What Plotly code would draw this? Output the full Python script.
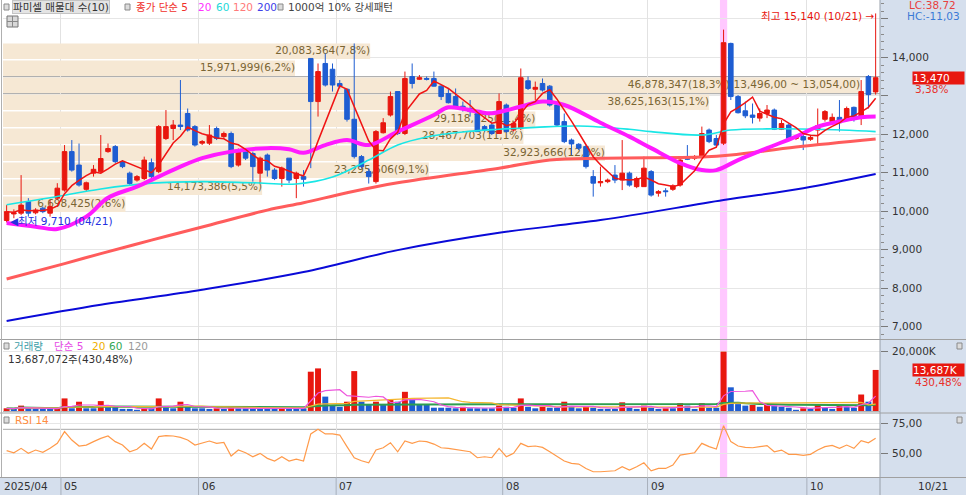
import plotly.graph_objects as go
import pandas as pd

FONT = "DejaVu Sans, Noto Sans CJK KR, sans-serif"
RED = "#e8170f"
BLUE = "#1e5dd2"

# ---------------- data ----------------
# trading-day index 0 = 2025-04-21 ... 120 = 2025-10-21
month_start_idx = [8, 27, 46, 69, 89, 111]
month_labels = ["05", "06", "07", "08", "09", "10"]
highlight_idx = 99  # 2025-09-15

opens = [9760, 9930, 9950, 10250, 9960, 10080, 9950, 10340, 10550, 11550,
         11200, 10570, 10990, 11030, 11550, 11680, 11290, 10990, 10810, 10850,
         11260, 11030, 11890, 12150, 12240, 12540, 12200, 11770, 11770, 12150,
         11940, 12020, 11200, 11550, 11500, 10990, 11460, 11070, 10850, 11380,
         10850, 10900, 13970, 12850, 13840, 13690, 13320, 13170, 12390, 11420,
         11030, 10770, 12040, 12500, 13110, 12020, 13500, 13430, 13450, 13450,
         13250, 13060, 12980, 12730, 12670, 12540, 12200, 12240, 12020, 12760,
         12110, 12150, 13390, 13170, 13320, 13250, 12760, 12330, 11850, 11740,
         11680, 10900, 10740, 10770, 10940, 10810, 10990, 10640, 10640, 11030,
         10470, 10530, 10570, 10680, 11390, 11380, 11420, 12110, 11890, 11770,
         14360, 12980, 12610, 12500, 12420, 12540, 12630, 12130, 12240, 11890,
         11940, 11870, 12110, 12390, 12330, 12440, 12410, 12700, 12410, 13500,
         13100]
highs = [10160, 10050, 10940, 10340, 10080, 10120, 10290, 10730, 11720, 11850,
         11760, 10770, 11200, 11980, 11760, 11720, 11330, 11030, 10940, 11420,
         11370, 12240, 12630, 12370, 13410, 12670, 12240, 11850, 12240, 12200,
         12070, 12070, 11630, 11590, 11550, 11420, 11500, 11120, 11160, 11380,
         11030, 11070, 13970, 13840, 14100, 13840, 13410, 13190, 14360, 11460,
         11110, 12110, 12420, 13110, 13110, 13630, 13840, 13540, 13500, 13630,
         13280, 13190, 13190, 12850, 12890, 12590, 12240, 12280, 13060, 12800,
         12330, 13710, 13500, 13370, 13450, 13280, 12800, 12540, 11890, 11770,
         11720, 11070, 11160, 10850, 11200, 11850, 11030, 10900, 11420, 11070,
         10550, 10600, 10700, 11420, 11720, 11460, 12200, 12150, 11980, 14720,
         14380, 13020, 12850, 12800, 12670, 12760, 12670, 12370, 12280, 11980,
         12020, 11980, 12670, 12630, 12540, 12890, 12720, 12720, 13410, 13540,
         15140]
lows = [9710, 9820, 9900, 9860, 9920, 9950, 9860, 10290, 10510, 11030,
        10640, 10510, 10900, 10990, 11520, 11250, 11120, 10680, 10770, 10810,
        10850, 10990, 11850, 11850, 12110, 12070, 11680, 11720, 11720, 11850,
        11890, 11120, 11160, 11330, 10770, 10730, 10900, 10810, 10640, 10730,
        10340, 10640, 11120, 12460, 13240, 13110, 13190, 12330, 11370, 11110,
        10720, 10720, 12020, 12460, 11980, 11980, 13190, 13410, 13400, 13240,
        12890, 12800, 12670, 12590, 12460, 12070, 12070, 11980, 12010, 12040,
        12070, 12110, 13150, 12890, 13110, 12720, 12200, 11770, 11460, 11590,
        11110, 10380, 10640, 10730, 10730, 10550, 10640, 10600, 10640, 10380,
        10380, 10380, 10530, 10640, 11330, 11330, 11380, 11770, 11680, 11720,
        12890, 12540, 12420, 12280, 12330, 12420, 12110, 12110, 11850, 11850,
        11590, 11830, 11720, 12330, 12280, 12070, 12370, 12330, 12240, 12670,
        13030]
closes = [9990, 9960, 10160, 9950, 10030, 9990, 10120, 10600, 11550, 11070,
          10680, 10740, 11090, 11370, 11630, 11290, 11160, 10720, 10900, 11330,
          10900, 12200, 12200, 12240, 12200, 12110, 11720, 11810, 11980, 11890,
          12020, 11160, 11590, 11380, 11160, 11380, 11070, 10850, 11120, 10810,
          10990, 10830, 12850, 13630, 13280, 13280, 13250, 12390, 11420, 11160,
          10900, 12070, 12300, 12980, 12020, 13450, 13320, 13470, 13430, 13250,
          12980, 12820, 12730, 12650, 12590, 12070, 12110, 12020, 12850, 12070,
          12280, 13470, 13190, 13220, 13150, 12760, 12240, 11810, 11750, 11640,
          11160, 10730, 10770, 10810, 10810, 10990, 10680, 10850, 11120, 10420,
          10510, 10510, 10660, 11330, 11350, 11420, 12020, 11810, 11720, 14380,
          12980, 12560, 12480, 12440, 12540, 12630, 12130, 12280, 11890, 11940,
          11850, 11920, 12220, 12590, 12440, 12300, 12670, 12390, 13110, 13030,
          13470]
volume_m = [0.9, 0.7, 1.8, 0.9, 0.7, 0.7, 0.7, 1.1, 4.2, 0.9,
            3.1, 0.9, 0.9, 3.3, 1.4, 1.4, 0.7, 0.7, 0.4, 0.9,
            0.9, 4.2, 1.2, 0.9, 3.1, 1.4, 0.9, 0.9, 0.7, 0.9,
            0.7, 1.4, 0.9, 0.9, 0.9, 0.9, 0.9, 0.7, 0.9, 0.9,
            0.9, 0.9, 13.1, 14.2, 4.8, 2.0, 1.4, 3.1, 13.3, 3.1,
            2.0, 3.1, 2.0, 4.0, 3.1, 6.4, 4.0, 2.0, 2.0, 1.1,
            1.1, 1.1, 0.9, 1.4, 0.9, 0.9, 0.9, 0.9, 1.8, 1.4,
            1.1, 4.2, 1.4, 0.9, 1.4, 1.1, 1.1, 3.1, 1.4, 0.9,
            1.4, 1.1, 0.7, 0.7, 0.7, 2.9, 1.1, 0.7, 1.8, 1.1,
            0.7, 0.9, 0.9, 2.6, 1.8, 0.7, 2.6, 1.1, 1.1, 19.8,
            7.9, 2.3, 1.8, 2.0, 1.4, 2.0, 1.8, 1.4, 1.1, 0.4,
            0.9, 0.7, 2.2, 1.1, 0.7, 1.8, 1.4, 1.1, 5.5, 3.1,
            13.687]
rsi14 = [52.5, 50.8, 54.4, 50.3, 53.0, 51.1, 54.4, 58.5, 68.1, 61.2,
         56.3, 57.1, 59.9, 62.6, 64.5, 59.9, 57.1, 51.6, 53.6, 58.5,
         53.8, 64.0, 64.8, 64.5, 63.4, 61.2, 57.1, 58.5, 60.4, 58.5,
         59.3, 48.1, 53.0, 50.8, 47.5, 50.3, 46.2, 44.0, 47.5, 44.0,
         45.6, 44.0, 66.2, 70.0, 66.2, 66.2, 65.3, 55.8, 46.7, 44.2,
         42.6, 53.0, 54.9, 59.0, 51.6, 60.4, 58.5, 60.4, 59.9, 57.9,
         54.9, 54.4, 53.6, 52.5, 51.6, 46.7, 47.5, 46.7, 54.4, 47.5,
         50.3, 58.5, 55.8, 56.3, 55.2, 51.6, 47.5, 44.0, 42.1, 41.5,
         37.9, 35.2, 35.2, 35.8, 36.0, 39.3, 36.6, 39.3, 42.6, 36.0,
         37.9, 37.9, 40.7, 48.9, 49.7, 50.8, 58.5, 55.8, 53.8, 73.0,
         59.9, 56.3, 55.2, 54.9, 55.8, 56.6, 51.6, 53.0, 49.5, 49.5,
         48.6, 49.5, 53.0, 55.8, 56.8, 54.4, 57.1, 54.4, 60.7, 59.0,
         62.6]

# moving averages (index, price)
ma20_idx = [0, 4, 7, 11, 14, 18, 21, 24, 27, 31, 36, 39, 41, 44, 47, 50, 54, 59, 61, 65,
            67, 71, 74, 77, 82, 86, 89, 93, 96, 98, 101, 105, 109, 112, 115, 118, 120]
ma20_val = [9695, 9600, 9540, 9860, 10350, 10640, 10900, 11160, 11380, 11550, 11640, 11610,
            11520, 11720, 11850, 11720, 12070, 12500, 12700, 12590, 12545, 12720, 12850, 12760,
            12300, 11940, 11640, 11250, 11070, 11070, 11330, 11640, 11940, 12200, 12330, 12440, 12460]
ma60_idx = [0, 6, 13, 20, 27, 34, 40, 45, 50, 54, 58, 63, 68, 73, 79, 86, 89, 96, 100, 105, 112, 120]
ma60_val = [10170, 10350, 10580, 10730, 10770, 10740, 10710, 10890, 11330, 11720, 11930, 12060,
            12130, 12180, 12215, 12130, 12070, 11980, 12110, 12140, 12130, 12070]
ma120_idx = [0, 8, 13, 20, 27, 36, 41, 47, 54, 68, 75, 82, 96, 100, 109, 120]
ma120_val = [8240, 8640, 8900, 9250, 9590, 10030, 10220, 10480, 10740, 11120, 11330, 11380,
             11410, 11460, 11670, 11880]
ma200_idx = [0, 13, 27, 41, 54, 68, 82, 99, 110, 120]
ma200_val = [7150, 7570, 7960, 8420, 8990, 9440, 9770, 10290, 10600, 10970]

# volume profile (매물대) bands, top to bottom
profile_centers = [14159, 13717, 13275, 12833, 12391, 11949, 11507, 11065, 10623, 10181]
profile_step = 442
profile_vol_m = [20.083364, 15.971999, 46.878347, 38.625163, 29.118725, 28.467703,
                 32.923666, 23.295606, 14.173386, 6.698425]
profile_labels = ["20,083,364(7,8%)", "15,971,999(6,2%)",
                  "46,878,347(18,3%)(13,496,00 ~ 13,054,00)", "38,625,163(15,1%)",
                  "29,118,725(11,4%)", "28,467,703(11,1%)", "32,923,666(12,8%)",
                  "23,295,606(9,1%)", "14,173,386(5,5%)", "6,698,425(2,6%)"]
current_band = (13054, 13496)

price_ticks = [7000, 8000, 9000, 10000, 11000, 12000, 13000, 14000, 15000]
price_ticktext = ["7,000", "8,000", "9,000", "10,000", "11,000", "12,000", "", "14,000", ""]

n = len(closes)
idx = list(range(n))
ma5 = pd.Series(closes).rolling(5, min_periods=1).mean()
vol_s = pd.Series(volume_m)
vma5 = vol_s.rolling(5, min_periods=1).mean()
vma20 = vol_s.rolling(20, min_periods=1).mean()
vma60 = vol_s.rolling(60, min_periods=1).mean()
vol_colors = [RED if (i == 0 or volume_m[i] > volume_m[i - 1]) else BLUE for i in idx]

# ---------------- geometry ----------------
W, H = 966, 495
ML, MR, MT, MB = 3, 86, 0, 18
PW = W - ML - MR
PH = H - MT - MB


def fx(px):
    return (px - ML) / PW


def fy(py):
    return (PH - (py - MT)) / PH


X_RANGE = [-0.5, 120.6]

fig = go.Figure()

# volume profile bands (base subplot, drawn beneath price traces)
fig.add_trace(go.Bar(x=profile_vol_m, y=profile_centers, orientation="h", base=0,
                     width=profile_step - 40, marker=dict(color="#f6e8d4", line=dict(width=0)),
                     xaxis="x", yaxis="y", hoverinfo="skip"))
fig.add_trace(go.Scatter(x=profile_vol_m, y=profile_centers, mode="text", text=profile_labels,
                         textposition="middle left",
                         textfont=dict(family=FONT, size=10.5, color="#7a6533"),
                         xaxis="x", yaxis="y", hoverinfo="skip"))

# moving averages
fig.add_trace(go.Scatter(x=ma200_idx, y=ma200_val, mode="lines", line=dict(color="#0a0ad8", width=2, shape="spline"),
                         xaxis="x2", yaxis="y", hoverinfo="skip"))
fig.add_trace(go.Scatter(x=ma120_idx, y=ma120_val, mode="lines", line=dict(color="#ff5c5c", width=3, shape="spline"),
                         xaxis="x2", yaxis="y", hoverinfo="skip"))
fig.add_trace(go.Scatter(x=ma60_idx, y=ma60_val, mode="lines", line=dict(color="#19e6e6", width=1.6, shape="spline"),
                         xaxis="x2", yaxis="y", hoverinfo="skip"))
fig.add_trace(go.Scatter(x=ma20_idx, y=ma20_val, mode="lines", line=dict(color="#ff1aff", width=4, shape="spline"),
                         xaxis="x2", yaxis="y", hoverinfo="skip"))

fig.add_trace(go.Candlestick(x=idx, open=opens, high=highs, low=lows, close=closes,
                             increasing=dict(line=dict(color=RED, width=1), fillcolor=RED),
                             decreasing=dict(line=dict(color=BLUE, width=1), fillcolor=BLUE),
                             whiskerwidth=0, xaxis="x2", yaxis="y", hoverinfo="skip"))
fig.add_trace(go.Scatter(x=idx, y=ma5, mode="lines", line=dict(color="#f01414", width=1.5),
                         xaxis="x2", yaxis="y", hoverinfo="skip"))

# volume
fig.add_trace(go.Bar(x=idx, y=volume_m, width=0.82, marker=dict(color=vol_colors, line=dict(width=0)),
                     xaxis="x3", yaxis="y2", hoverinfo="skip"))
fig.add_trace(go.Scatter(x=idx, y=vma60, mode="lines", line=dict(color="#2e9e4f", width=2),
                         xaxis="x3", yaxis="y2", hoverinfo="skip"))
fig.add_trace(go.Scatter(x=idx, y=vma20, mode="lines", line=dict(color="#f5b730", width=1.2),
                         xaxis="x3", yaxis="y2", hoverinfo="skip"))
fig.add_trace(go.Scatter(x=idx, y=vma5, mode="lines", line=dict(color="#ee55dd", width=1.2),
                         xaxis="x3", yaxis="y2", hoverinfo="skip"))

# RSI
fig.add_trace(go.Scatter(x=idx, y=rsi14, mode="lines", line=dict(color="#ff9a4a", width=1.2),
                         xaxis="x4", yaxis="y3", hoverinfo="skip"))

# ---------------- shapes ----------------
shapes = []


def line_px(x0, y0, x1, y1, color="#a0a0a0", width=1):
    shapes.append(dict(type="line", xref="paper", yref="paper", x0=fx(x0), x1=fx(x1),
                       y0=fy(y0), y1=fy(y1), line=dict(color=color, width=width), layer="above"))


def rect_px(x0, y0, x1, y1, fill, border=None, layer="above"):
    shapes.append(dict(type="rect", xref="paper", yref="paper", x0=fx(x0), x1=fx(x1),
                       y0=fy(y1), y1=fy(y0), fillcolor=fill,
                       line=dict(color=border or fill, width=1 if border else 0), layer=layer))


# pink highlight of the selected day
shapes.append(dict(type="rect", xref="x2", yref="paper", x0=highlight_idx - 0.5, x1=highlight_idx + 0.5,
                   y0=0, y1=1, fillcolor="#ffc8ff", line=dict(width=0), layer="below"))
# current-price band borders
for v in current_band:
    shapes.append(dict(type="line", xref="paper", yref="y", x0=0, x1=1, y0=v, y1=v,
                       line=dict(color="#9c9c9c", width=1), layer="below"))
# RSI 70 line
shapes.append(dict(type="line", xref="paper", yref="y3", x0=0, x1=1, y0=70, y1=70,
                   line=dict(color="#a8a8a8", width=1), layer="below"))
# left white strip
rect_px(0, 0, 3, 477, "#ffffff", layer="below")
# panel separators
line_px(0, 339.5, 966, 339.5)
line_px(3, 411.5, 880, 411.5, "#b4b4b4")
line_px(0, 413, 966, 413)
line_px(0, 477.5, 966, 477.5)
line_px(880, 0, 880, 495, "#98a0aa")
line_px(1.5, 0, 1.5, 477, "#b0b0b0")
# month separators in the date strip
for m in month_start_idx:
    shapes.append(dict(type="line", xref="x2", yref="paper", x0=m - 0.5, x1=m - 0.5,
                       y0=fy(495), y1=fy(477), line=dict(color="#a8b0bc", width=1)))
# little square icons
for (x0, y0) in [(4, 4), (125, 4), (278, 4), (4, 343), (4, 417), (957, 343), (957, 417)]:
    rect_px(x0, y0, x0 + 5, y0 + 6, "#dcdcdc", "#8a8a8a")
rect_px(7, 16, 18, 27, "#d8d8d8", "#777777")
line_px(7, 21.5, 18, 21.5, "#888888")
line_px(12.5, 16, 12.5, 27, "#888888")

# ---------------- annotations ----------------
annotations = []


def txt(px, py, s, color, size=10.5, xanchor="left", bg="rgba(0,0,0,0)", border=None, width=None):
    a = dict(x=fx(px), y=fy(py), xref="paper", yref="paper", text=s, showarrow=False,
             font=dict(family=FONT, size=size, color=color), xanchor=xanchor, yanchor="middle",
             bgcolor=bg, borderpad=0)
    if border:
        a["bordercolor"] = border
        a["borderwidth"] = 1
    if width:
        a["width"] = width
        a["align"] = "left"
    annotations.append(a)


# top legend
txt(12, 7, "파미셀 매물대 수(10)", "#333333", bg="#e4e4e4", border="#c4c4c4")
txt(135, 7, "종가 단순 5", "#f0302a")
txt(197, 7, "20", "#ff33ff")
txt(215, 7, "60", "#1ed8d8")
txt(232, 7, "120", "#ff7a7a")
txt(256, 7, "200", "#4040e8")
txt(287, 7, "1000억 10% 강세패턴", "#444444")
# high / low marks
txt(760, 16, "최고 15,140 (10/21) →", "#e8170f")
txt(9, 221, "◀최저 9,710 (04/21)", "#2430e0")
# right panel labels
txt(908, 5, "LC:38,72", "#e84040")
txt(906, 16, "HC:-11,03", "#3a7ad6", bg="#d5dfed")
txt(912, 78, "13,470", "#ffffff", bg=RED, width=51)
txt(914, 89, "3,38%", "#e8302a")
txt(912, 370, "13,687K", "#ffffff", bg=RED, width=51)
txt(914, 382, "430,48%", "#e8302a")
txt(917, 486, "10/21", "#333333")
# volume legend
txt(13, 346, "거래량", "#3e9ea8")
txt(53, 346, "단순 5", "#e64ce6")
txt(91, 346, "20", "#f0b000")
txt(108, 346, "60", "#34a853")
txt(127, 346, "120", "#9a9a9a")
txt(7, 359, "13,687,072주(430,48%)", "#333333")
# RSI legend
txt(14, 420, "RSI 14", "#ff8c40")
# date strip
txt(3, 486, "2025/04", "#333333")
for m, lab in zip(month_start_idx, month_labels):
    px = ML + (m - 0.5 - X_RANGE[0]) / (X_RANGE[1] - X_RANGE[0]) * PW
    txt(px + 2, 486, lab, "#333333")

xgrid = dict(range=X_RANGE, tickmode="array", tickvals=[m - 0.5 for m in month_start_idx],
             showgrid=True, gridcolor="#e2e2e2", gridwidth=1, showticklabels=False, ticks="",
             zeroline=False, showline=False, fixedrange=True)

fig.update_layout(
    width=W, height=H,
    margin=dict(l=ML, r=MR, t=MT, b=MB, pad=0, autoexpand=False),
    paper_bgcolor="#d5dfed", plot_bgcolor="#ffffff",
    showlegend=False, barmode="overlay", boxgap=0.1,
    font=dict(family=FONT, size=10.5, color="#333333"),
    xaxis=dict(domain=[0, 1], range=[0, 47.97], visible=False, anchor="y", fixedrange=True),
    xaxis2=dict(overlaying="x", anchor="y", rangeslider=dict(visible=False), **xgrid),
    xaxis3=dict(domain=[0, 1], anchor="y2", **xgrid),
    xaxis4=dict(domain=[0, 1], anchor="y3", **xgrid),
    yaxis=dict(domain=[fy(339), 1], range=[6681, 15489], side="right", anchor="x2",
               tickmode="array", tickvals=price_ticks, ticktext=price_ticktext,
               showgrid=True, gridcolor="#e6e6e6", ticks="outside", ticklen=7, tickcolor="#7a7a7a",
               minor=dict(tickmode="linear", dtick=200, tick0=0, ticklen=3, tickcolor="#8a8a8a", showgrid=False),
               tickfont=dict(family=FONT, size=10.5, color="#333333"), ticklabelstandoff=2,
               zeroline=False, showline=False, fixedrange=True, automargin=False),
    yaxis2=dict(domain=[fy(412), fy(339)], range=[-0.33, 24.0], side="right", anchor="x3",
                tickmode="array", tickvals=[20], ticktext=["20,000K"],
                showgrid=True, gridcolor="#e6e6e6", ticks="outside", ticklen=7, tickcolor="#7a7a7a",
                tickfont=dict(family=FONT, size=10.5, color="#333333"), ticklabelstandoff=2,
                zeroline=False, showline=False, fixedrange=True, automargin=False),
    yaxis3=dict(domain=[0, fy(412)], range=[30.9, 84.2], side="right", anchor="x4",
                tickmode="array", tickvals=[50, 75], ticktext=["50,00", "75,00"],
                showgrid=True, gridcolor="#e6e6e6", ticks="outside", ticklen=7, tickcolor="#7a7a7a",
                tickfont=dict(family=FONT, size=10.5, color="#333333"), ticklabelstandoff=2,
                zeroline=False, showline=False, fixedrange=True, automargin=False),
    shapes=shapes,
    annotations=annotations,
)

fig.write_html("out.html", config={"displayModeBar": False},
               post_script="document.body.style.margin='0px';document.body.style.padding='0px';")
